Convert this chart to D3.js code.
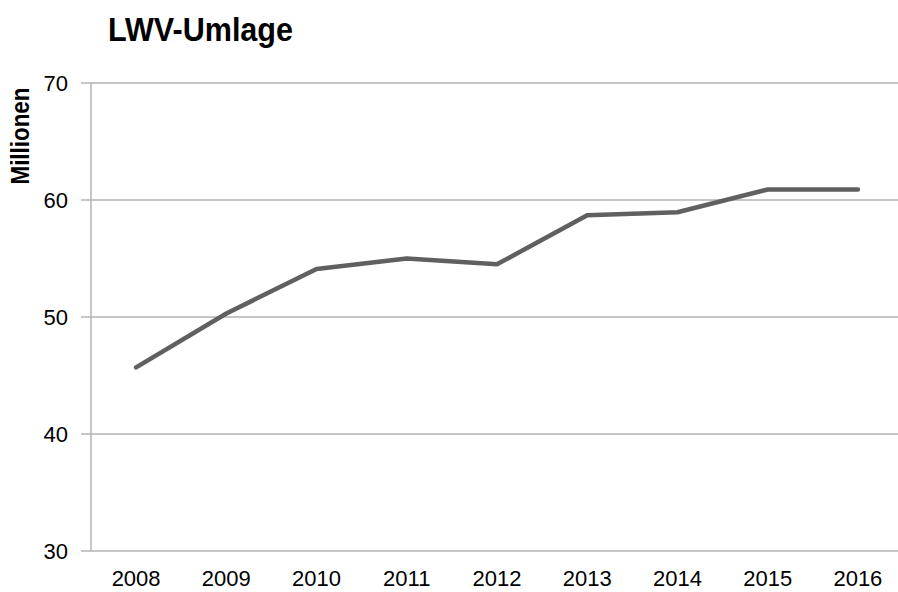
<!DOCTYPE html>
<html>
<head>
<meta charset="utf-8">
<script src="https://cdn.jsdelivr.net/npm/d3@7"></script>
<style>
  body { margin: 0; background: #fff; }
  text { font-family: "Liberation Sans", Arial, sans-serif; fill: #000; }
</style>
</head>
<body>
<script>
const years = ["2008", "2009", "2010", "2011", "2012", "2013", "2014", "2015", "2016"];
const umlage = [45.7, 50.3, 54.1, 55.0, 54.5, 58.7, 58.95, 60.9, 60.9];
const yTicks = [30, 40, 50, 60, 70];

const width = 898;
const height = 592;
const plotLeft = 91, plotRight = 903, plotTop = 83, plotBottom = 551;

const svg = d3.select('body')
  .append('svg')
  .attr('width', width)
  .attr('height', height);

const x = d3.scaleBand().domain(years).range([plotLeft, plotRight]);
const y = d3.scaleLinear().domain([30, 70]).range([plotBottom, plotTop]);

// gridlines + ticks
svg.append('g')
  .selectAll('line')
  .data(yTicks)
  .enter().append('line')
  .attr('x1', plotLeft - 10)
  .attr('x2', width)
  .attr('y1', d => y(d))
  .attr('y2', d => y(d))
  .attr('stroke', '#b3b3b3')
  .attr('stroke-width', 1.5);

// y axis line
svg.append('line')
  .attr('x1', plotLeft).attr('x2', plotLeft)
  .attr('y1', plotTop).attr('y2', plotBottom)
  .attr('stroke', '#b3b3b3')
  .attr('stroke-width', 1.5);

svg.append('g')
  .selectAll('text')
  .data(yTicks)
  .enter().append('text')
  .attr('x', 68)
  .attr('y', d => y(d) + 8)
  .attr('text-anchor', 'end')
  .style('font-size', '22px')
  .text(d => d);

svg.append('g')
  .selectAll('text')
  .data(years)
  .enter().append('text')
  .attr('x', d => x(d) + x.bandwidth() / 2)
  .attr('y', 586)
  .attr('text-anchor', 'middle')
  .style('font-size', '22px')
  .text(d => d);

const line = d3.line()
  .x((d, i) => x(years[i]) + x.bandwidth() / 2)
  .y(d => y(d));

svg.append('path')
  .datum(umlage)
  .attr('d', line)
  .attr('fill', 'none')
  .attr('stroke', '#606060')
  .attr('stroke-width', 4.5)
  .attr('stroke-linejoin', 'round')
  .attr('stroke-linecap', 'round');

svg.append('text')
  .attr('x', 108)
  .attr('y', 41)
  .attr('textLength', 185)
  .attr('lengthAdjust', 'spacingAndGlyphs')
  .style('font-size', '33px')
  .style('font-weight', 'bold')
  .text('LWV-Umlage');

svg.append('text')
  .attr('transform', 'translate(29,136) rotate(-90)')
  .attr('text-anchor', 'middle')
  .attr('textLength', 97)
  .attr('lengthAdjust', 'spacingAndGlyphs')
  .style('font-size', '25px')
  .style('font-weight', 'bold')
  .text('Millionen');
</script>
</body>
</html>
